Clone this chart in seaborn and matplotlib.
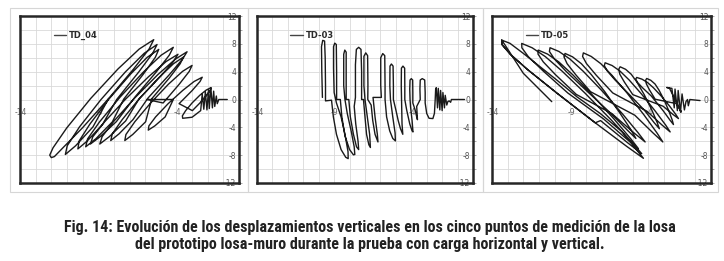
import numpy as np
import pandas as pd
import matplotlib
matplotlib.use("Agg")
import matplotlib.pyplot as plt
from matplotlib.ticker import MultipleLocator
from matplotlib.patches import Rectangle
from matplotlib import font_manager
from matplotlib.font_manager import FontProperties
import seaborn as sns

# ---------------- data ----------------
panel_names = ["TD_04", "TD-03", "TD-05"]
y_tick_values = [-12, -8, -4, 0, 4, 8, 12]
x_label_values = [-14, -9, -4]
x_label_texts = ["-14", "-9", "-4"]

td04_path = [
    (-0.75, 0.0), (-1.29, 0.0), (-1.39, -0.6), (-1.45, 0.5), (-1.55, -1.0), (-1.62, 1.2),
    (-1.7, -1.2), (-1.8, 1.7), (-1.9, -1.3), (-1.95, 1.4), (-2.05, -1.5), (-2.15, 1.1),
    (-2.25, -1.4), (-2.35, 0.8), (-2.45, -1.6), (-3.0, -2.55),
    (-3.6, -2.7), (-3.62, -2.35), (-3.41, -1.6), (-3.0, -0.5), (-2.51, 0.6), (-2.1, 1.35),
    (-1.8, 1.7), (-1.83, 1.35), (-2.08, 0.6), (-2.5, -0.5), (-2.98, -1.6),
    (-3.83, -0.6), (-2.99, 1.3), (-2.49, 2.59), (-2.35, 3.2), (-2.87, 2.59), (-3.6, 1.3),
    (-4.53, -0.6), (-5.33, -2.5), (-5.76, -3.79), (-5.8, -4.4), (-5.38, -3.79), (-4.72, -2.5),
    (-4.2, 0.0), (-5.9, 0.0),
    (-4.85, -0.5), (-3.82, 2.2), (-3.18, 4.04), (-3.0, 4.9), (-3.61, 4.04), (-4.51, 2.2),
    (-5.65, -0.5), (-6.66, -3.2), (-7.23, -5.04), (-7.3, -5.9), (-6.8, -5.04), (-5.97, -3.2),
    (-5.58, 0.1), (-4.45, 3.1), (-3.76, 5.14), (-3.55, 6.1), (-4.19, 5.14), (-5.14, 3.1),
    (-6.38, 0.1), (-7.47, -2.9), (-8.1, -4.94), (-8.2, -5.9), (-7.67, -4.94), (-6.78, -2.9),
    (-5.81, 0.23), (-4.46, 3.55), (-3.61, 5.8), (-3.32, 6.86), (-4.07, 5.8), (-5.2, 3.55),
    (-6.66, 0.23), (-7.99, -3.09), (-8.75, -5.34), (-8.9, -6.4), (-8.29, -5.34), (-7.25, -3.09),
    (-6.4, 0.05), (-5.04, 3.28), (-4.19, 5.47), (-3.9, 6.5), (-4.65, 5.47), (-5.78, 3.28),
    (-7.25, 0.05), (-8.58, -3.18), (-9.35, -5.37), (-9.5, -6.4), (-8.89, -5.37), (-7.84, -3.18),
    (-6.65, 0.35), (-5.3, 3.93), (-4.46, 6.36), (-4.2, 7.5), (-4.98, 6.36), (-6.12, 3.93),
    (-7.6, 0.35), (-8.92, -3.23), (-9.68, -5.66), (-9.8, -6.8), (-9.16, -5.66), (-8.1, -3.23),
    (-7.37, 0.05), (-6.12, 3.63), (-5.35, 6.06), (-5.13, 7.2), (-5.87, 6.06), (-6.94, 3.63),
    (-8.32, 0.05), (-9.53, -3.53), (-10.22, -5.96), (-10.3, -7.1), (-9.7, -5.96), (-8.71, -3.53),
    (-7.82, 0.0), (-6.41, 3.95), (-5.52, 6.64), (-5.24, 7.9), (-6.06, 6.64), (-7.27, 3.95),
    (-8.82, 0.0), (-10.2, -3.95), (-10.98, -6.64), (-11.1, -7.9), (-10.44, -6.64), (-9.34, -3.95),
    (-8.33, 0.15), (-6.74, 4.38), (-5.75, 7.25), (-5.45, 8.6), (-6.38, 7.25), (-7.74, 4.38),
    (-9.48, 0.15), (-11.01, -4.08), (-11.89, -6.95), (-12.1, -8.0), (-12.0, -8.35),
    (-11.8, -8.2), (-11.26, -6.95), (-10.01, -4.08), (-8.33, 0.15),
]

td03_path = [
    (-9.76, 0.3), (-9.8, 4.0), (-9.82, 7.6), (-9.74, 8.5), (-9.62, 8.4), (-9.58, 6.0), (-9.56, 2.0),
    (-9.56, -0.2), (-9.17, -0.1), (-9.05, -2.5), (-8.85, -5.0), (-8.55, -7.2), (-8.25, -8.3),
    (-8.09, -8.5), (-8.1, -7.5), (-8.3, -5.0), (-8.55, -2.5), (-8.85, -0.5),
    (-9.0, 1.0), (-9.04, 4.5), (-9.04, 7.6), (-8.96, 8.1), (-8.86, 7.9), (-8.84, 4.0), (-8.84, 0.0),
    (-8.6, 0.0), (-8.5, -2.5), (-8.3, -5.2), (-8.0, -7.2), (-7.75, -7.95), (-7.66, -7.9),
    (-7.7, -6.8), (-7.9, -4.5), (-8.15, -2.0), (-8.3, 0.0),
    (-8.38, 2.0), (-8.38, 6.5), (-8.31, 7.1), (-8.22, 6.8), (-8.22, 3.0), (-8.22, 0.0), (-8.05, 0.0),
    (-7.95, -2.5), (-7.75, -5.0), (-7.55, -6.8), (-7.41, -7.2), (-7.45, -6.0), (-7.6, -3.5),
    (-7.7, -1.0), (-7.62, 0.3),
    (-7.62, 5.0), (-7.56, 7.2), (-7.41, 7.5), (-7.26, 7.2), (-7.22, 4.0), (-7.22, 0.0), (-7.1, 0.0),
    (-7.0, -2.5), (-6.9, -5.0), (-6.75, -6.5), (-6.65, -6.9), (-6.7, -5.0), (-6.85, -2.5), (-7.0, 0.0),
    (-7.07, 2.0), (-7.07, 6.2), (-6.95, 6.7), (-6.83, 6.3), (-6.81, 2.0), (-6.82, 0.0), (-6.6, -0.8),
    (-6.5, -3.0), (-6.35, -5.0), (-6.16, -6.1), (-6.2, -5.0), (-6.35, -2.5), (-6.48, 0.3), (-5.94, 0.3),
    (-5.98, 2.0), (-5.98, 6.0), (-5.85, 6.6), (-5.72, 6.3), (-5.7, 2.0), (-5.7, 0.0), (-5.6, -2.5),
    (-5.4, -4.5), (-5.2, -5.6), (-5.03, -5.95), (-5.05, -4.8), (-5.2, -2.5), (-5.35, 0.0),
    (-5.39, 2.0), (-5.38, 4.8), (-5.29, 5.1), (-5.18, 4.8), (-5.16, 2.0), (-5.16, 0.0), (-5.0, -1.5),
    (-4.85, -3.0), (-4.7, -4.2), (-4.55, -5.0), (-4.6, -3.5), (-4.62, -1.0), (-4.63, 0.0),
    (-4.65, 2.0), (-4.64, 4.5), (-4.54, 4.8), (-4.43, 4.5), (-4.42, 2.0), (-4.42, 0.0), (-4.3, -1.5),
    (-4.1, -3.5), (-3.95, -4.5), (-3.89, -4.66), (-3.95, -3.0), (-4.05, -1.0), (-4.08, 0.0),
    (-4.1, 1.5), (-4.08, 2.8), (-4.0, 3.0), (-3.91, 2.8), (-3.9, 1.0), (-3.9, -0.5), (-3.75, -1.5),
    (-3.65, -2.5), (-3.6, -2.9), (-3.65, -1.0), (-3.42, 0.0),
    (-3.44, 1.5), (-3.42, 2.8), (-3.29, 3.0), (-3.13, 2.8), (-3.1, 1.0), (-3.1, -0.5), (-3.0, -2.0),
    (-2.85, -2.7), (-2.6, -2.74), (-2.5, -2.0), (-2.45, 0.0),
    (-2.42, 1.5), (-2.38, 1.7), (-2.3, -1.2), (-2.25, 1.6), (-2.15, -1.5), (-2.1, 1.3), (-2.0, -1.6),
    (-1.95, 1.0), (-1.85, -1.2), (-1.8, 0.6), (-1.7, -0.8), (-1.63, -0.3), (-1.55, -0.2),
    (-1.45, -0.4), (-1.4, 0.0), (-0.55, 0.0),
]

td05_path = [
    (-0.7, -0.15), (-1.35, 0.0), (-1.45, -0.9), (-1.5, 0.0), (-1.6, -0.3),
    (-1.7, -1.5), (-1.85, 0.8), (-1.95, -1.8), (-2.1, 1.3), (-2.15, -1.6), (-2.3, 1.5),
    (-2.35, -1.2), (-2.5, 1.6), (-2.83, 1.73), (-2.65, 1.6), (-2.3, 0.0), (-1.9, -1.8), (-2.2, -0.6),
    (-3.57, 0.04), (-3.93, 1.37), (-4.13, 2.23), (-4.18, 2.76), (-4.11, 3.02), (-3.85, 2.76),
    (-3.58, 2.23), (-3.33, 1.37), (-3.02, 0.04), (-2.7, -1.61), (-2.48, -2.94), (-2.4, -3.6),
    (-2.63, -2.94), (-3.06, -1.61),
    (-3.82, 0.51), (-4.38, 1.69), (-4.7, 2.46), (-4.81, 2.93), (-4.75, 3.17), (-4.42, 2.93),
    (-4.07, 2.46), (-3.68, 1.69), (-3.19, 0.51), (-2.64, -0.97), (-2.25, -2.15), (-2.08, -2.74),
    (-2.43, -2.15), (-3.06, -0.97),
    (-5.0, 0.7), (-5.53, 2.48), (-5.83, 3.63), (-5.9, 4.34), (-5.81, 4.7), (-5.46, 4.34),
    (-5.1, 3.63), (-4.73, 2.48), (-4.27, 0.7), (-3.78, -1.53), (-3.44, -3.31), (-3.3, -4.2),
    (-3.64, -3.31), (-4.26, -1.53),
    (-5.26, 0.81), (-6.13, 2.8), (-6.63, 4.09), (-6.82, 4.88), (-6.77, 5.28), (-6.32, 4.88),
    (-5.82, 4.09), (-5.23, 2.8), (-4.45, 0.81), (-3.56, -1.68), (-2.9, -3.67), (-2.61, -4.66),
    (-3.13, -3.67), (-4.1, -1.68),
    (-6.28, 0.94), (-7.34, 3.5), (-7.96, 5.16), (-8.21, 6.19), (-8.16, 6.7), (-7.66, 6.19),
    (-7.05, 5.16), (-6.34, 3.5), (-5.37, 0.94), (-4.27, -2.26), (-3.45, -4.82), (-3.08, -6.1),
    (-3.7, -4.82), (-4.87, -2.26),
    (-7.7, 1.12), (-8.65, 3.57), (-9.2, 5.15), (-9.4, 6.13), (-9.33, 6.62), (-8.85, 6.13),
    (-8.29, 5.15), (-7.65, 3.57), (-6.79, 1.12), (-5.83, -1.93), (-5.11, -4.38), (-4.8, -5.6),
    (-5.36, -4.38), (-6.43, -1.93),
    (-8.0, 1.35), (-9.27, 4.06), (-10.01, 5.82), (-10.33, 6.9), (-10.29, 7.44), (-9.72, 6.9),
    (-9.02, 5.82), (-8.17, 4.06), (-7.01, 1.35), (-5.67, -2.04), (-4.67, -4.75), (-4.21, -6.1),
    (-4.95, -4.75), (-6.33, -2.04),
    (-8.61, 0.73), (-9.94, 3.56), (-10.72, 5.4), (-11.06, 6.53), (-11.04, 7.1), (-10.45, 6.53),
    (-9.73, 5.4), (-8.84, 3.56), (-7.62, 0.73), (-6.2, -2.81), (-5.13, -5.64), (-4.64, -7.06),
    (-5.41, -5.64), (-6.86, -2.81),
    (-9.15, 0.93), (-10.73, 4.1), (-11.68, 6.16), (-12.09, 7.43), (-12.1, 8.06), (-11.43, 7.43),
    (-10.59, 6.16), (-9.53, 4.1), (-8.06, 0.93), (-6.34, -3.03), (-5.04, -6.2), (-4.43, -7.78),
    (-5.34, -6.2), (-7.06, -3.03),
    (-7.4, -3.35), (-9.84, 0.9), (-11.72, 4.29), (-12.83, 6.5), (-13.35, 7.86), (-13.38, 8.54),
    (-12.85, 8.07), (-12.0, 6.63), (-10.93, 4.71), (-9.86, 2.8), (-8.58, 0.4), (-7.09, -1.99),
    (-5.7, -4.6), (-4.32, -8.45), (-5.38, -6.75), (-7.4, -3.35), (-9.84, 0.9), (-11.72, 4.29),
    (-12.83, 6.5), (-13.35, 7.86), (-13.38, 8.54), (-13.1, 7.6), (-12.0, 3.77), (-10.93, 1.37),
    (-10.18, -0.31),
]

paths = [td04_path, td03_path, td05_path]

# ---------------- styling ----------------
sns.set_style("white")
plt.rcParams["font.family"] = ["DejaVu Sans"]

W, H = 724, 261
fig = plt.figure(figsize=(W / 100, H / 100), dpi=100)
fig.patch.set_facecolor("white")

plot_boxes = [(20, 16, 219, 167), (257, 16, 216, 167), (492, 16, 219, 167)]
outer_boxes = [(10, 8, 238, 184), (248, 8, 235, 184), (483, 8, 235, 184)]

for (bx, by, bw, bh) in outer_boxes:
    fig.patches.append(Rectangle((bx / W, 1 - (by + bh) / H), bw / W, bh / H,
                                 transform=fig.transFigure, fill=False,
                                 edgecolor="#d6d6d6", lw=0.8))

line_col = "#1a1a1a"
grid_col = "#d9d9d9"
for (px, py, pw, ph), path, name in zip(plot_boxes, paths, panel_names):
    ax = fig.add_axes([px / W, 1 - (py + ph) / H, pw / W, ph / H])
    df = pd.DataFrame(path, columns=["x", "y"])
    sns.lineplot(data=df, x="x", y="y", sort=False, estimator=None, ax=ax,
                 color=line_col, lw=1.0, label=name, zorder=3)
    ax.set_xlim(-14, 0)
    ax.set_ylim(-12, 12)
    ax.set_xlabel("")
    ax.set_ylabel("")
    ax.xaxis.set_major_locator(MultipleLocator(1))
    ax.yaxis.set_major_locator(MultipleLocator(4))
    ax.yaxis.set_minor_locator(MultipleLocator(2))
    ax.grid(True, which="major", axis="x", color=grid_col, lw=0.6, zorder=0)
    ax.grid(True, which="both", axis="y", color=grid_col, lw=0.6, zorder=0)
    ax.set_axisbelow(True)
    ax.tick_params(axis="x", which="both", length=0, labelbottom=False)
    ax.set_yticks(y_tick_values)
    ax.set_yticklabels([str(v) for v in y_tick_values])
    ax.tick_params(axis="y", which="major", left=False, right=True, labelleft=False,
                   labelright=True, direction="out", length=2, width=0.6,
                   color="#999999", pad=-4, labelsize=5.5, labelcolor="#555555")
    ax.tick_params(axis="y", which="minor", left=False, right=True, direction="out",
                   length=2, width=0.6, color="#999999")
    plt.setp(ax.get_yticklabels(), ha="right")
    for s in ax.spines.values():
        s.set_visible(True)
        s.set_color("#262626")
        s.set_linewidth(1.8)
    for xv, xt in zip(x_label_values, x_label_texts):
        ax.text(xv + 0.05, -1.8, xt, ha="center", va="center", fontsize=5.5,
                color="#666666", zorder=2, clip_on=False)
    leg = ax.legend(loc="center left", bbox_to_anchor=(0.155, 0.886), frameon=False,
                    handlelength=1.45, handletextpad=0.35, borderpad=0, borderaxespad=0,
                    prop={"size": 6, "weight": "bold"})
    for t in leg.get_texts():
        t.set_color("#2a2a2a")
    for l in leg.get_lines():
        l.set_color("#444444")
        l.set_linewidth(1.0)

# ---------------- caption ----------------
cap1 = "Fig. 14: Evolución de los desplazamientos verticales en los cinco puntos de medición de la losa"
cap2 = "del prototipo losa-muro durante la prueba con carga horizontal y vertical."


def _is_bold(f):
    w = f.weight
    if isinstance(w, (int, float)):
        return w >= 600
    return str(w).lower() in ("bold", "heavy", "black", "semibold", "demibold", "extra bold")


def _is_narrow(f):
    return ("Narrow" in f.name or "Condensed" in f.name or
            str(f.stretch).lower() in ("condensed", "semi-condensed", "extra-condensed"))


cands = [f for f in font_manager.fontManager.ttflist if _is_narrow(f) and _is_bold(f)
         and "italic" not in str(f.style).lower() and "Oblique" not in f.fname
         and "Italic" not in f.fname]
cands.sort(key=lambda f: (0 if "Liberation Sans Narrow" in f.name else
                          1 if "Roboto" in f.name else 2, f.fname))
if cands:
    cap_fp = FontProperties(fname=cands[0].fname)
else:
    cap_fp = FontProperties(family="DejaVu Sans", weight="bold")

t1 = fig.text(369.5 / W, 1 - 227.5 / H, cap1, ha="center", va="center",
              fontproperties=cap_fp, color="#222222")
t2 = fig.text(369.5 / W, 1 - 244.5 / H, cap2, ha="center", va="center",
              fontproperties=cap_fp, color="#222222")
t1.set_fontsize(9)
t2.set_fontsize(9)
fig.canvas.draw()
r = fig.canvas.get_renderer()
bb = t1.get_window_extent(r)
fs_w = 9 * 685.0 / bb.width
fs_h = 9 * 16.6 / bb.height
fs = min(fs_w, fs_h)
t1.set_fontsize(fs)
t2.set_fontsize(fs)

fig.savefig("out.png", dpi=100, facecolor="white")
